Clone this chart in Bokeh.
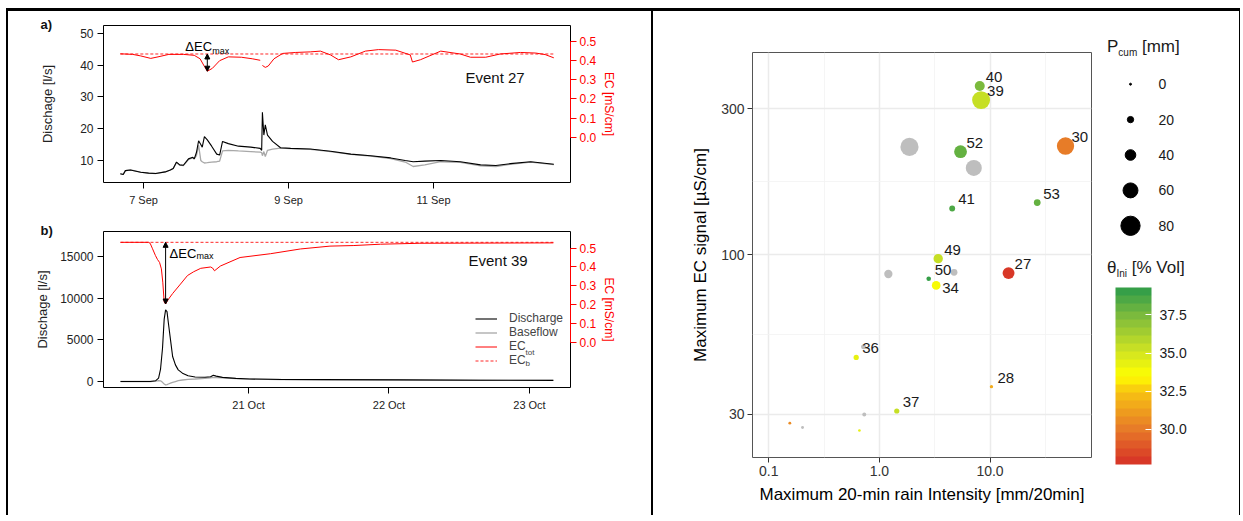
import numpy as np
from bokeh.plotting import figure
from bokeh.models import (Range1d, LinearAxis, FixedTicker, PrintfTickFormatter, Label, Arrow,
                          NormalHead, Legend, LegendItem, ColumnDataSource, LinearColorMapper,
                          ColorBar, FactorRange, Div)
from bokeh.layouts import row, column
from bokeh.embed import file_html
from bokeh.resources import INLINE
from bokeh.core.properties import value

FONT = "Liberation Sans"
nan = float("nan")

# ---------------- Event 27 (September, day of month) ----------------
t27 = [6.68, 6.72, 6.75, 6.82, 6.96, 7.07, 7.17, 7.30, 7.37, 7.41, 7.455, 7.50, 7.55, 7.62, 7.68,
       7.70, 7.73, 7.76, 7.79, 7.81, 7.84, 7.88, 7.94, 8.01, 8.05, 8.09, 8.17, 8.31, 8.48, 8.61,
       8.63, 8.64, 8.66, 8.68, 8.71, 8.78, 8.89, 9.03, 9.30, 9.58, 9.86, 10.13, 10.41, 10.61, 10.72,
       10.88, 11.10, 11.37, 11.65, 11.86, 12.06, 12.34, 12.66]
q27 = [5.8, 5.6, 6.8, 7.0, 6.3, 6.0, 5.9, 6.4, 7.0, 7.5, 9.5, 8.6, 8.5, 10.5, 11.0,
       10.5, 12.5, 16.2, 15.0, 14.2, 17.5, 16.5, 14.5, 12.0, 11.7, 16.0, 15.3, 14.5, 14.2, 13.8,
       13.2, 25.2, 18.0, 21.2, 18.0, 16.0, 14.0, 13.8, 13.6, 12.9, 12.0, 11.5, 10.8, 10.0, 9.6,
       9.8, 10.0, 9.6, 8.6, 8.4, 9.0, 9.6, 8.8]
base27 = [5.8, 5.6, 6.8, 7.0, 6.3, 6.0, 5.9, 6.4, 7.0, 7.5, 9.3, 8.5, 8.4, 10.3, 10.8,
          10.5, 11.5, 14.8, 10.0, 9.6, 9.2, 9.3, 9.5, 9.6, 9.8, 13.0, 13.2, 13.0, 12.8, 12.6,
          12.5, 11.5, 12.8, 11.2, 13.2, 13.6, 13.9, 13.7, 13.5, 12.8, 11.9, 11.4, 10.6, 9.5, 8.1,
          8.6, 9.6, 9.4, 8.3, 8.1, 8.8, 9.5, 8.7]
te27 = [6.68, 6.85, 6.96, 7.10, 7.20, 7.35, 7.55, 7.70, 7.78, 7.84, 7.88, 7.95, 8.05, 8.17, 8.35,
        8.50, 8.61, 8.625, 8.64, 8.68, 8.72, 8.80, 8.92, 9.10, 9.30, 9.44, 9.58, 9.69, 9.86, 10.06,
        10.24, 10.48, 10.68, 10.71, 10.82, 11.10, 11.37, 11.51, 11.72, 11.92, 12.20, 12.41, 12.54, 12.66]
ec27 = [0.436, 0.433, 0.425, 0.412, 0.420, 0.433, 0.433, 0.428, 0.41, 0.37, 0.345, 0.36, 0.40, 0.42, 0.418,
        0.41, 0.402, nan, 0.375, 0.365, 0.372, 0.41, 0.438, 0.443, 0.446, 0.45, 0.43, 0.405, 0.42, 0.45,
        0.458, 0.455, 0.43, 0.393, 0.405, 0.45, 0.435, 0.418, 0.418, 0.435, 0.443, 0.44, 0.432, 0.415]
ecb27 = 0.435
ticks27 = [7, 9, 11]
ticklabels27 = ["7 Sep", "9 Sep", "11 Sep"]

# ---------------- Event 39 (October, day of month) ----------------
t39 = [20.089, 20.30, 20.34, 20.36, 20.374, 20.388, 20.40, 20.41, 20.42, 20.43, 20.445, 20.46, 20.48,
       20.50, 20.53, 20.57, 20.62, 20.69, 20.73, 20.75, 20.77, 20.815, 20.91, 21.01, 21.23, 21.51,
       22.08, 22.65, 23.17]
q39 = [0, 0, 100, 400, 1500, 4000, 7500, 8600, 8400, 7000, 5000, 3000, 2000,
       1400, 1000, 700, 550, 520, 580, 750, 650, 500, 380, 300, 250, 230,
       200, 160, 140]
base39 = [0, 0, 50, 100, 80, -100, -300, -400, -380, -300, -200, -100, 0,
          100, 180, 250, 300, 380, 450, 500, 480, 430, 350, 290, 240, 220,
          190, 150, 130]
te39 = [20.089, 20.288, 20.30, 20.317, 20.338, 20.352, 20.367, 20.38, 20.39, 20.40, 20.41, 20.43,
        20.46, 20.516, 20.566, 20.61, 20.66, 20.73, 20.744, 20.758, 20.80, 20.94, 21.157, 21.37,
        21.58, 21.75, 21.94, 22.22, 23.17]
ec39 = [0.53, 0.53, 0.525, 0.496, 0.46, 0.44, 0.424, 0.39, 0.32, 0.215, 0.205, 0.23,
        0.26, 0.31, 0.355, 0.375, 0.393, 0.40, 0.395, 0.38, 0.405, 0.45, 0.47, 0.495,
        0.51, 0.513, 0.52, 0.525, 0.527]
ecb39 = 0.53
ticks39 = [21, 22, 23]
ticklabels39 = ["21 Oct", "22 Oct", "23 Oct"]

ec_ticks = [0.0, 0.1, 0.2, 0.3, 0.4, 0.5]

# ---------------- Scatter: events ----------------
event = ["40", "39", "", "52", "", "41", "53", "30", "49", "", "50", "", "34", "27", "36", "",
         "28", "37", "", "", "", ""]
intensity = [8.07, 8.3, 1.87, 5.41, 7.13, 4.55, 26.7, 48.1, 3.40, 1.205, 2.79, 4.73, 3.26, 14.7,
             0.617, 0.72, 10.3, 1.435, 0.73, 0.155, 0.202, 0.66]
ec_max = [356, 320, 225, 217, 192, 141.5, 148, 226.5, 97, 86.4, 83.4, 87.5, 79.3, 87.0,
          46.1, 50, 37.0, 30.8, 30, 28.1, 27.2, 26.6]
p_cum = [37, 74, 75, 50, 65, 18, 22, 71, 34, 29, 12, 22, 31, 46, 15, 14, 6, 15, 9, 4, 4, 3]
theta_ini = [37.4, 35.2, nan, 38.2, nan, 38.3, 38.0, 30.0, 35.4, nan, 39.0, nan, 34.0, 28.0,
             34.3, nan, 31.5, 35.6, nan, 30.6, nan, 34.3]
size_legend = [0, 20, 40, 60, 80]
theta_ticks = [30.0, 32.5, 35.0, 37.5]
theta_limits = (27.7, 39.3)


def dot_size(p):
    return 2 + 0.216 * p


def hex2rgb(h):
    return [int(h[i:i + 2], 16) for i in (1, 3, 5)]


anchors = [(0.0, "#D62F27"), (0.2, "#E77A28"), (0.414, "#F7C412"), (0.5, "#FFFF00"),
           (0.63, "#D2E521"), (0.845, "#79B93E"), (1.0, "#2A9A4A")]


def interp(f):
    for (f0, c0), (f1, c1) in zip(anchors[:-1], anchors[1:]):
        if f0 <= f <= f1:
            a = (f - f0) / (f1 - f0)
            r0, r1 = hex2rgb(c0), hex2rgb(c1)
            return "#%02X%02X%02X" % tuple(int(round(x0 + (x1 - x0) * a)) for x0, x1 in zip(r0, r1))
    return anchors[-1][1]


palette = [interp((i + 0.5) / 22) for i in range(22)]


def style_axis(ax, lab_size, title_size, color="#222222"):
    ax.major_label_text_font = FONT
    ax.major_label_text_font_size = lab_size
    ax.major_label_text_color = color
    ax.axis_label_text_font = FONT
    ax.axis_label_text_font_size = title_size
    ax.axis_label_text_font_style = "normal"
    ax.axis_label_text_color = color
    ax.minor_tick_line_color = None


def event_panel(t, q, base, te, ec, ec_base, x_rng, q_rng, ec_rng, q_ticks, d_ticks, d_labels,
                height, top, bottom, tag, yl_standoff, dlab):
    p = figure(width=643, height=height, x_range=Range1d(*x_rng), y_range=Range1d(*q_rng),
               min_border_left=95, min_border_right=81, min_border_top=top, min_border_bottom=bottom,
               output_backend="svg", toolbar_location=None)
    p.extra_y_ranges = {"ec": Range1d(*ec_rng)}
    p.grid.visible = False
    p.outline_line_color = "black"
    p.outline_line_width = 1
    t = np.asarray(t, float)
    te = np.asarray(te, float)
    ec = np.asarray(ec, float)
    rb = p.line(t, np.asarray(base, float), line_color="#A8A8A8", line_width=1.3)
    rq = p.line(t, np.asarray(q, float), line_color="black", line_width=1.1)
    re = p.line(te, ec, line_color="red", line_width=1, y_range_name="ec")
    rd = p.line(te[[0, -1]], [ec_base, ec_base], line_color="red", line_alpha=0.85,
                line_dash="3 2", line_width=1, y_range_name="ec")

    ya = p.yaxis[0]
    ya.ticker = FixedTicker(ticks=q_ticks)
    ya.formatter = PrintfTickFormatter(format="%d")
    ya.bounds = (q_ticks[0], q_ticks[-1])
    ya.major_tick_out = 6
    ya.major_tick_in = 0
    ya.major_label_standoff = 4
    ya.axis_label = "Dischage [l/s]"
    ya.axis_label_standoff = yl_standoff
    style_axis(ya, "12px", "13px")

    xa = p.xaxis[0]
    xa.ticker = FixedTicker(ticks=d_ticks)
    xa.major_label_overrides = {k: v for k, v in zip(d_ticks, d_labels)}
    xa.axis_line_color = None
    xa.major_tick_out = 6
    xa.major_tick_in = 0
    xa.major_label_standoff = 5
    style_axis(xa, "11px", "12px")

    ea = LinearAxis(y_range_name="ec", ticker=FixedTicker(ticks=ec_ticks),
                    formatter=PrintfTickFormatter(format="%.1f"), axis_label="EC [mS/cm]",
                    bounds=(ec_ticks[0], ec_ticks[-1]))
    style_axis(ea, "12px", "12px", color="red")
    ea.axis_line_color = "red"
    ea.major_tick_line_color = "red"
    ea.major_tick_out = 6
    ea.major_tick_in = 0
    ea.major_label_standoff = 3
    ea.axis_label_standoff = 3
    p.add_layout(ea, "right")

    idx = int(np.nanargmin(ec))
    tm, emin = te[idx], ec[idx]
    p.add_layout(Arrow(x_start=tm, y_start=ec_base, x_end=tm, y_end=emin, y_range_name="ec",
                       line_color="black", line_width=1,
                       start=NormalHead(size=5, fill_color="black", line_color="black"),
                       end=NormalHead(size=5, fill_color="black", line_color="black")))
    dx, dy, sdy = dlab
    p.add_layout(Label(x=tm, y=ec_base, y_range_name="ec", x_offset=dx, y_offset=dy, text="ΔEC",
                       text_font=FONT, text_font_size="13px", text_baseline="middle", text_color="black"))
    p.add_layout(Label(x=tm, y=ec_base, y_range_name="ec", x_offset=dx + 27, y_offset=sdy, text="max",
                       text_font=FONT, text_font_size="9px", text_baseline="middle", text_color="black"))

    p.title.text = tag
    p.title.align = "left"
    p.title.offset = -63
    p.title.standoff = -12
    p.title.text_font = FONT
    p.title.text_font_size = "13px"
    p.title.text_font_style = "bold"
    p.title.text_color = "#111111"
    return p, rq, rb, re, rd


pa, *_ = event_panel(t27, q27, base27, te27, ec27, ecb27, (6.448, 12.89), (3.06, 52.5),
                     (-0.237, 0.584), [10, 20, 30, 40, 50], ticks27, ticklabels27,
                     204, 14, 33, "a)", 22, (-22, 7, 3))
pa.add_layout(Label(x=362, y=105, x_units="screen", y_units="screen", text="Event 27", text_font=FONT,
                    text_font_size="15px", text_baseline="middle", text_color="#111111"))

pb, rq, rb, re, rd = event_panel(t39, q39, base39, te39, ec39, ecb39, (19.968, 23.292), (-720, 18030),
                                 (-0.235, 0.587), [0, 5000, 10000, 15000], ticks39, ticklabels39,
                                 300, 16, 128, "b)", 7, (4, -11, -14))
pb.add_layout(Label(x=365, y=127, x_units="screen", y_units="screen", text="Event 39", text_font=FONT,
                    text_font_size="15px", text_baseline="middle", text_color="#111111"))
leg = Legend(items=[LegendItem(label="Discharge", renderers=[rq]),
                    LegendItem(label="Baseflow", renderers=[rb]),
                    LegendItem(label="EC", renderers=[re]),
                    LegendItem(label="EC", renderers=[rd])],
             location=(372, 20), orientation="vertical", padding=0, margin=0, spacing=-3,
             glyph_width=22, glyph_height=11, label_height=11, label_standoff=12,
             label_text_font=FONT, label_text_font_size="12px", border_line_color=None,
             background_fill_alpha=0)
pb.add_layout(leg)
pb.add_layout(Label(x=422, y=35, x_units="screen", y_units="screen", text="tot", text_font=FONT,
                    text_font_size="8px", text_baseline="middle"))
pb.add_layout(Label(x=422, y=24, x_units="screen", y_units="screen", text="b", text_font=FONT,
                    text_font_size="8px", text_baseline="middle"))

# ---------------- Scatter ----------------
mapper = LinearColorMapper(palette=palette, low=theta_limits[0], high=theta_limits[1], nan_color="#BEBEBE")
src = ColumnDataSource(dict(x=intensity, y=ec_max, event=event,
                            theta=np.asarray(theta_ini, float),
                            size=[dot_size(v) for v in p_cum],
                            dy=[3 if e == "34" else -9 for e in event]))

sc = figure(width=446, height=504, x_axis_type="log", y_axis_type="log",
            x_range=Range1d(0.0713, 82.6), y_range=Range1d(21.7, 458),
            min_border_left=99, min_border_right=8, min_border_top=41, min_border_bottom=58,
            output_backend="svg", toolbar_location=None)
sc.outline_line_color = "#555555"
sc.outline_line_width = 1
sc.scatter(x="x", y="y", size="size", source=src, line_color=None,
           fill_color={"field": "theta", "transform": mapper})
sc.text(x="x", y="y", text="event", source=src, x_offset=6, y_offset="dy",
        text_font=value(FONT), text_font_size=value("15px"), text_baseline="middle",
        text_align="left", text_color="#1A1A1A")

sc.xaxis.ticker = FixedTicker(ticks=[0.1, 1, 10], minor_ticks=[0.316, 3.16, 31.6])
sc.yaxis.ticker = FixedTicker(ticks=[30, 100, 300], minor_ticks=[54.8, 173.2])
sc.xaxis.formatter = PrintfTickFormatter(format="%.1f")
sc.yaxis.formatter = PrintfTickFormatter(format="%d")
for ax in (sc.xaxis[0], sc.yaxis[0]):
    style_axis(ax, "14px", "17px", color="#333333")
    ax.axis_label_text_color = "black"
    ax.axis_line_color = None
    ax.major_tick_line_color = "#333333"
    ax.major_tick_out = 5
    ax.major_tick_in = 0
    ax.major_label_standoff = 3
sc.xaxis.axis_label = "Maximum 20-min rain Intensity [mm/20min]"
sc.yaxis.axis_label = "Maximum EC signal [µS/cm]"
sc.xaxis.axis_label_standoff = 6
sc.yaxis.axis_label_standoff = 8
sc.grid.grid_line_color = "#EBEBEB"
sc.grid.grid_line_width = 1.5
sc.grid.minor_grid_line_color = "#F2F2F2"
sc.grid.minor_grid_line_width = 0.8

# ---------------- size legend ----------------
LEGW = 140
title_p = Div(text=('<div style="padding:26px 0 0 8px;font-family:\'Liberation Sans\',Arial,sans-serif;'
                    'font-size:17px;line-height:20px;white-space:nowrap;color:#1A1A1A">'
                    'P<sub style="font-size:10px;vertical-align:-4px;line-height:0">cum</sub> [mm]</div>'),
              width=LEGW, height=55, margin=0)
leg_labels = [str(v) for v in size_legend]
pl = figure(width=LEGW, height=184, x_range=FactorRange(factors=["k"]),
            y_range=FactorRange(factors=leg_labels[::-1]),
            min_border_left=16, min_border_right=LEGW - 46, min_border_top=0, min_border_bottom=7,
            x_axis_location=None, y_axis_location="right",
            output_backend="svg", toolbar_location=None)
pl.outline_line_color = None
pl.grid.visible = False
pl.scatter(x=["k"] * len(size_legend), y=leg_labels, size=[dot_size(v) for v in size_legend],
           color="black")
la = pl.yaxis[0]
style_axis(la, "14px", "14px", color="#1A1A1A")
la.axis_line_color = None
la.major_tick_line_color = None
la.major_label_standoff = 7

# ---------------- colour bar ----------------
title_t = Div(text=('<div style="padding:8px 0 0 8px;font-family:\'Liberation Sans\',Arial,sans-serif;'
                    'font-size:17px;line-height:20px;white-space:nowrap;color:#1A1A1A">'
                    'θ<sub style="font-size:10px;vertical-align:-4px;line-height:0">Ini</sub> [% Vol]</div>'),
              width=LEGW, height=37, margin=0)
cf = figure(width=LEGW, height=228, x_range=Range1d(0, 1), y_range=Range1d(0, 1),
            min_border_left=11, min_border_right=LEGW - 47, min_border_top=0, min_border_bottom=51,
            x_axis_location=None, y_axis_location=None,
            output_backend="svg", toolbar_location=None)
cf.outline_line_color = None
cf.grid.visible = False
cb = ColorBar(color_mapper=mapper, location=(0, 0), width=36, height=177, padding=0,
              orientation="vertical", ticker=FixedTicker(ticks=theta_ticks),
              formatter=PrintfTickFormatter(format="%.1f"), major_tick_line_color="white",
              major_tick_in=6, major_tick_out=0, label_standoff=8,
              major_label_text_font=FONT, major_label_text_font_size="14px",
              major_label_text_color="#1A1A1A", bar_line_color=None, border_line_color=None,
              background_fill_alpha=0)
cf.add_layout(cb, "center")


def bar(w, h):
    return Div(text="", width=w, height=h, margin=0, styles={"background-color": "black"})


H = 504
layout = column(bar(2 + 643 + 2 + 446 + LEGW + 1, 3),
                row(bar(2, H), column(pa, pb), bar(2, H), sc,
                    column(title_p, pl, title_t, cf), bar(1, H)),
                margin=(8, 0, 0, 6))

open("out.html", "w").write(file_html(layout, INLINE, title="EC events"))
